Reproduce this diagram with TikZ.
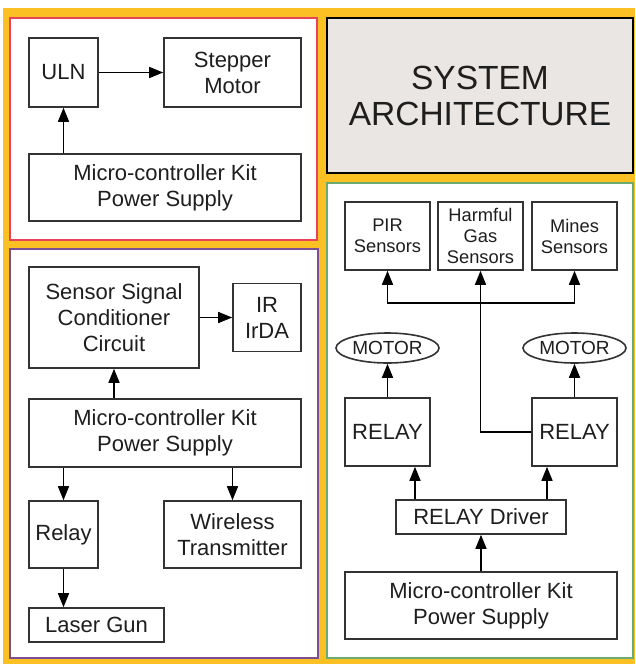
\documentclass[tikz,border=0pt]{standalone}
\usepackage{fontspec}
\setmainfont{Liberation Sans}
\usetikzlibrary{arrows.meta,shapes.geometric}
\definecolor{bgyellow}{HTML}{FBC023}
\definecolor{panelred}{HTML}{E8435A}
\definecolor{panelpurple}{HTML}{7A4F94}
\definecolor{panelgreen}{HTML}{6BAA70}
\definecolor{titlegray}{HTML}{EAE6E3}
\definecolor{ink}{HTML}{1E1E1E}
\definecolor{boxline}{HTML}{333333}
\tikzset{
  blk/.style={draw=boxline, line width=1.6pt, fill=white, rectangle, align=center,
    inner sep=0pt, font=\fontsize{22}{26}\selectfont, text=ink},
  small/.style={font=\fontsize{18.3}{21}\selectfont},
  motorshape/.style={draw=boxline, line width=1.6pt, fill=white, ellipse, inner sep=0pt,
    minimum width=103pt, minimum height=30pt, font=\fontsize{19}{20}\selectfont, text=ink},
  arr/.style={draw=black, line width=1.5pt, arrows={-Triangle[length=14pt,width=11pt]}},
  panel/.style={line width=2.2pt, fill=white}
}
\begin{document}
\begin{tikzpicture}[x=1pt,y=-1pt]
\useasboundingbox (0,0) rectangle (635,664);
\fill[white] (0,0) rectangle (635,664);
% orange frame behind the four panels
\fill[bgyellow] (3,8) rectangle (635,664);

% panels
\draw[panel, draw=panelred] (10,18) rectangle (317,240);
\draw[panel, draw=panelpurple] (10,249) rectangle (318,658);
\draw[panel, draw=panelgreen] (327,183) rectangle (633,658);

% title block
\node[draw=black, line width=2.6pt, fill=titlegray, minimum width=306pt, minimum height=155pt,
  inner sep=0pt, align=center, text=ink, font=\fontsize{33.5}{36}\selectfont]
  (title) at (480,95.5) {SYSTEM\\ARCHITECTURE};

% ---- stepper motor section ----
\node[blk, minimum width=69pt, minimum height=69pt] (uln) at (63.5,72.5) {ULN};
\node[blk, minimum width=137pt, minimum height=69pt] (step) at (232.5,72.5) {Stepper\\Motor};
\node[blk, minimum width=272pt, minimum height=67pt] (ps1) at (165,187.5) {Micro-controller Kit\\Power Supply};
\draw[arr] (uln.east) -- (step.west);
\draw[arr] (ps1.north -| uln.south) -- (uln.south);

% ---- sensor / laser section ----
\node[blk, minimum width=170pt, minimum height=101pt] (ssc) at (114,317.5) {Sensor Signal\\Conditioner\\Circuit};
\node[blk, minimum width=68pt, minimum height=68pt] (ir) at (267,317.5) {IR\\IrDA};
\node[blk, minimum width=272pt, minimum height=68pt] (ps2) at (165,433) {Micro-controller Kit\\Power Supply};
\node[blk, minimum width=69pt, minimum height=67pt] (relay) at (63.5,534.5) {Relay};
\node[blk, minimum width=137pt, minimum height=67pt] (wt) at (232.5,534.5) {Wireless\\Transmitter};
\node[blk, minimum width=135pt, minimum height=34pt] (laser) at (96.5,625) {Laser Gun};
\draw[arr] (ssc.east) -- (ir.west);
\draw[arr] (ps2.north -| ssc.south) -- (ssc.south);
\draw[arr] (ps2.south -| relay.north) -- (relay.north);
\draw[arr] (ps2.south -| wt.north) -- (wt.north);
\draw[arr] (relay.south) -- (relay.south |- laser.north);

% ---- relay / sensors section ----
\node[blk, small, minimum width=85pt, minimum height=68pt] (pir) at (387.5,236) {PIR\\Sensors};
\node[blk, small, minimum width=85pt, minimum height=68pt] (gas) at (480.5,236) {Harmful\\Gas\\Sensors};
\node[blk, small, minimum width=85pt, minimum height=68pt] (mines) at (574.5,236) {Mines\\Sensors};
\node[motorshape] (motorL) at (387.5,348) {MOTOR};
\node[motorshape] (motorR) at (574.5,348) {MOTOR};
\node[blk, minimum width=85pt, minimum height=68pt] (relayL) at (387.5,432) {RELAY};
\node[blk, minimum width=85pt, minimum height=68pt] (relayR) at (574.5,432) {RELAY};
\node[blk, minimum width=170pt, minimum height=34pt] (drv) at (481,517) {RELAY Driver};
\node[blk, minimum width=272pt, minimum height=67pt] (ps3) at (481,605.5) {Micro-controller Kit\\Power Supply};
\coordinate (bus) at (480.5,303);
\draw[arr] (relayL.north) -- (motorL.south);
\draw[arr] (relayR.north) -- (motorR.south);
\draw[arr] ([xshift=-66pt]drv.north) -- ([xshift=-66pt]drv.north |- relayL.south);
\draw[arr] ([xshift=66pt]drv.north) -- ([xshift=66pt]drv.north |- relayR.south);
\draw[arr] (ps3.north) -- (drv.south);
\draw[arr] (relayR.west) -| (gas.south);
\draw[arr] (bus) -| (pir.south);
\draw[arr] (bus) -| (mines.south);
\end{tikzpicture}
\end{document}
